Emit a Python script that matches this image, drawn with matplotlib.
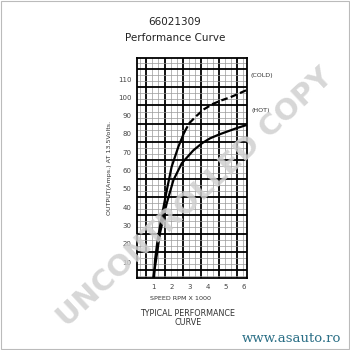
import matplotlib
matplotlib.use("Agg")
import matplotlib.pyplot as plt
import numpy as np

# ---- data ----
x_ticks = [1, 2, 3, 4, 5, 6]
y_ticks = [10, 20, 30, 40, 50, 60, 70, 80, 90, 100, 110]

cold_rpm = [1.06, 1.11, 1.25, 1.48, 1.75, 2.02, 2.39, 2.72]
cold_amps = [2, 11, 22, 35, 49, 62, 73, 81]
cold_dash_rpm = [2.72, 3.0, 3.4, 3.8, 4.3, 4.8, 5.23, 5.7, 6.14]
cold_dash_amps = [81, 86, 90, 93.5, 96.5, 98.5, 100, 102, 104]

hot_rpm = [1.02, 1.15, 1.38, 1.75, 2.12, 2.58, 3.21, 3.7, 4.13, 4.6, 5.04, 5.6, 6.14]
hot_amps = [2, 10, 25.7, 42, 54.8, 64, 71, 75, 77.6, 79.6, 81.2, 83.2, 84.9]

title_lines = ["66021309", "Performance Curve"]
ylabel = "OUTPUT(Amps.) AT 13.5Volts."
xlabel = "SPEED RPM X 1000"
footer = "TYPICAL PERFORMANCE\nCURVE"
site = "www.asauto.ro"
watermark = "UNCONTROLLED COPY"

W = H = 350
fig = plt.figure(figsize=(3.5, 3.5), dpi=100)
fig.patch.set_facecolor("white")

def px(x0, y0, w, h):
    return [x0 / W, 1 - (y0 + h) / H, w / W, h / H]

ax = fig.add_axes(px(137, 58, 110, 220))
xlo, xhi = 0.12, 6.16
ylo, yhi = 1.3, 121.5
ax.set_xlim(xlo, xhi)
ax.set_ylim(ylo, yhi)

# grid: thick lines offset half a cell from labels, thin lines in thirds
xoff, yoff = 0.63, 5.6
for k in range(-1, 8):
    for j in range(3):
        xv = xoff + k + j / 3
        if xlo < xv < xhi:
            ax.axvline(xv, color="black" if j == 0 else "#9a9a9a",
                       lw=1.3 if j == 0 else 0.5, zorder=1)
for k in range(-1, 13):
    for j in range(3):
        yv = yoff + 10 * k + 10 * j / 3
        if ylo < yv < yhi:
            ax.axhline(yv, color="black" if j == 0 else "#9a9a9a",
                       lw=1.3 if j == 0 else 0.5, zorder=1)

for s in ax.spines.values():
    s.set_linewidth(1.3)

ax.set_xticks(x_ticks)
ax.set_yticks(y_ticks)
ax.tick_params(length=0, labelsize=5, pad=4, colors="#444444")

ax.plot(cold_rpm, cold_amps, color="black", lw=1.6, zorder=3, solid_capstyle="round")
ax.plot(cold_dash_rpm, cold_dash_amps, color="black", lw=1.6, ls=(0, (3, 1.5)), zorder=3)
ax.plot(hot_rpm, hot_amps, color="black", lw=1.6, zorder=3)

ax.text(1.03, 0.92, "(COLD)", transform=ax.transAxes, fontsize=4.6,
        ha="left", va="center", color="#333333")
ax.text(1.04, 0.76, "(HOT)", transform=ax.transAxes, fontsize=4.6,
        ha="left", va="center", color="#333333")

fig.text(175 / W, 1 - 22 / H, title_lines[0], ha="center", va="center", fontsize=7.5, color="#222222")
fig.text(175 / W, 1 - 38 / H, title_lines[1], ha="center", va="center", fontsize=7.5, color="#222222")
fig.text(110 / W, 1 - 168 / H, ylabel, rotation=90, ha="center", va="center", fontsize=4.6, color="#333333")
fig.text(181 / W, 1 - 298 / H, xlabel, ha="center", va="center", fontsize=4.6, color="#333333")
fig.text(188 / W, 1 - 318 / H, footer, ha="center", va="center", fontsize=5.8,
         color="#333333", linespacing=1.1)
fig.text(291 / W, 1 - 339 / H, site, ha="center", va="center", fontsize=9.5,
         family="DejaVu Serif", color="#2b6f86")

fig.text(195 / W, 1 - 198 / H, watermark, ha="center", va="center", fontsize=21,
         rotation=43, color="#d0d0d0", alpha=0.85, fontweight="bold", zorder=10)

# thin border around the image
fig.add_artist(plt.Rectangle((0.003, 0.003), 0.994, 0.994, transform=fig.transFigure,
                             fill=False, edgecolor="#bbbbbb", lw=0.8))

fig.savefig("out.png", dpi=100, facecolor="white")
